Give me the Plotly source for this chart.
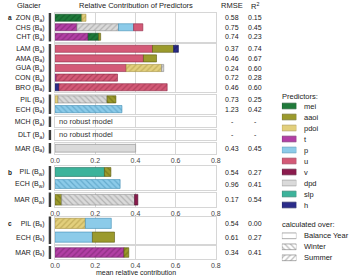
import plotly.graph_objects as go

W, H = 350, 275
FONT = "Liberation Sans, Arial, sans-serif"

# ---------------- data ----------------
PREDICTORS = ["mei", "aaoi", "pdoi", "t", "p", "u", "v", "dpd", "slp", "h"]
PRED_COLORS = ["#1f7a3a", "#9b9a2c", "#e2cf7c", "#b23fa5", "#8ccbe9",
               "#d35a77", "#8b1b4d", "#dadada", "#3cb39b", "#2b2c8a"]
PRED_DARK = ["#0c4a20", "#5c5b10", "#a48f3c", "#6a1d62", "#3f8db3",
             "#8f2944", "#4c0c2a", "#8c8c8c", "#1c6e5c", "#141550"]
SEASONS = ["Y", "W", "S"]
SEASON_LABELS = ["Balance Year", "Winter", "Summer"]
SEASON_SHAPES = ["", "\\", "/"]

# panel a
a1_labels = ["ZON (B<sub>a</sub>)", "CHS (B<sub>a</sub>)", "CHT (B<sub>a</sub>)"]
a1_rmse = ["0.58", "0.75", "0.74"]
a1_r2 = ["0.15", "0.45", "0.23"]
a1_pred = [["mei", "pdoi"], ["t", "dpd", "p", "u"], ["t", "mei", "aaoi"]]
a1_vals = [[0.133, 0.021], [0.109, 0.207, 0.075, 0.046], [0.165, 0.052, 0.010]]
a1_seas = [["S", "S"], ["S", "S", "Y", "Y"], ["S", "S", "Y"]]

a2_labels = ["LAM (B<sub>a</sub>)", "AMA (B<sub>a</sub>)", "GUA (B<sub>a</sub>)",
             "CON (B<sub>a</sub>)", "BRO (B<sub>a</sub>)"]
a2_rmse = ["0.37", "0.46", "0.24", "0.72", "0.46"]
a2_r2 = ["0.74", "0.67", "0.60", "0.28", "0.60"]
a2_pred = [["u", "aaoi", "h"], ["u", "aaoi"], ["u", "pdoi", "dpd"], ["t", "u"], ["h", "u"]]
a2_vals = [[0.485, 0.105, 0.024], [0.440, 0.065], [0.354, 0.176, 0.011],
           [0.006, 0.305], [0.020, 0.538]]
a2_seas = [["Y", "Y", "S"], ["Y", "Y"], ["Y", "S", "S"], ["Y", "S"], ["Y", "S"]]

a3_labels = ["PIL (B<sub>a</sub>)", "ECH (B<sub>a</sub>)"]
a3_rmse = ["0.73", "1.23"]
a3_r2 = ["0.25", "0.42"]
a3_pred = [["pdoi", "dpd", "aaoi"], ["p"]]
a3_vals = [[0.015, 0.244, 0.044], [0.333]]
a3_seas = [["Y", "W", "W"], ["W"]]

a4_labels = ["MCH (B<sub>a</sub>)"]
a4_rmse = ["-"]
a4_r2 = ["-"]
a4_pred = [[]]
a4_vals = [[]]
a4_seas = [[]]

a5_labels = ["DLT (B<sub>a</sub>)"]
a5_rmse = ["-"]
a5_r2 = ["-"]
a5_pred = [[]]
a5_vals = [[]]
a5_seas = [[]]

a6_labels = ["MAR (B<sub>a</sub>)"]
a6_rmse = ["0.43"]
a6_r2 = ["0.45"]
a6_pred = [["dpd"]]
a6_vals = [[0.401]]
a6_seas = [["Y"]]

# panel b
b1_labels = ["PIL (B<sub>w</sub>)", "ECH (B<sub>w</sub>)"]
b1_rmse = ["0.54", "0.96"]
b1_r2 = ["0.27", "0.41"]
b1_pred = [["slp", "aaoi"], ["p"]]
b1_vals = [[0.246, 0.032], [0.324]]
b1_seas = [["Y", "W"], ["W"]]

b2_labels = ["MAR (B<sub>w</sub>)"]
b2_rmse = ["0.17"]
b2_r2 = ["0.54"]
b2_pred = [["aaoi", "dpd", "v"]]
b2_vals = [[0.033, 0.363, 0.016]]
b2_seas = [["W", "W", "Y"]]

# panel c
c1_labels = ["PIL (B<sub>s</sub>)", "ECH (B<sub>s</sub>)"]
c1_rmse = ["0.54", "0.61"]
c1_r2 = ["0.00", "0.27"]
c1_pred = [["pdoi", "p"], ["p", "aaoi"]]
c1_vals = [[0.151, 0.129], [0.186, 0.110]]
c1_seas = [["S", "Y"], ["Y", "Y"]]

c2_labels = ["MAR (B<sub>s</sub>)"]
c2_rmse = ["0.34"]
c2_r2 = ["0.41"]
c2_pred = [["t", "aaoi"]]
c2_vals = [[0.343, 0.024]]
c2_seas = [["S", "S"]]

X_TICKS = [0.0, 0.2, 0.4, 0.6, 0.8]
X_TICK_TEXT = ["0.0", "0.2", "0.4", "0.6", "0.8"]

# ---------------- layout helpers ----------------
def px_x(p):
    return p / W

def px_y(p):
    return 1 - p / H

# (data, top px, bottom px, show x tick labels, panel letter)
groups = [
    ((a1_labels, a1_rmse, a1_r2, a1_pred, a1_vals, a1_seas), 13, 41.5, False, "a"),
    ((a2_labels, a2_rmse, a2_r2, a2_pred, a2_vals, a2_seas), 44, 92, False, None),
    ((a3_labels, a3_rmse, a3_r2, a3_pred, a3_vals, a3_seas), 94.5, 114, False, None),
    ((a4_labels, a4_rmse, a4_r2, a4_pred, a4_vals, a4_seas), 116.5, 127, False, None),
    ((a5_labels, a5_rmse, a5_r2, a5_pred, a5_vals, a5_seas), 130, 140, False, None),
    ((a6_labels, a6_rmse, a6_r2, a6_pred, a6_vals, a6_seas), 143, 153.5, True, None),
    ((b1_labels, b1_rmse, b1_r2, b1_pred, b1_vals, b1_seas), 166, 190, False, "b"),
    ((b2_labels, b2_rmse, b2_r2, b2_pred, b2_vals, b2_seas), 192.5, 207, True, None),
    ((c1_labels, c1_rmse, c1_r2, c1_pred, c1_vals, c1_seas), 216.5, 244, False, "c"),
    ((c2_labels, c2_rmse, c2_r2, c2_pred, c2_vals, c2_seas), 246, 259, True, None),
]

X0_PX, X1_PX = 51.5, 217
RMSE_X, R2_X = 234, 257.5
GRID = "#d6d6d6"
TEXT = "#222222"

fig = go.Figure()
layout = dict(
    width=W, height=H,
    margin=dict(l=0, r=0, t=0, b=0),
    paper_bgcolor="white", plot_bgcolor="white",
    showlegend=False, barmode="overlay",
    font=dict(family=FONT, size=7.5, color=TEXT),
)
shapes = []
annotations = []

for k, (data, top, bot, show_ticks, letter) in enumerate(groups, start=1):
    labels, rmse, r2, preds, vals, seas = data
    ax = "" if k == 1 else str(k)
    n = len(labels)
    layout[f"xaxis{ax}"] = dict(
        domain=[px_x(X0_PX), px_x(X1_PX)], anchor=f"y{ax}",
        range=[0, 0.8], tickvals=X_TICKS, ticktext=X_TICK_TEXT,
        showticklabels=show_ticks, ticks="", showgrid=True, gridcolor=GRID,
        gridwidth=1, zeroline=False, showline=True, mirror=True,
        linecolor=GRID, linewidth=1, tickfont=dict(size=7, color="#444"),
        fixedrange=True,
    )
    layout[f"yaxis{ax}"] = dict(
        domain=[px_y(bot), px_y(top)], anchor=f"x{ax}",
        range=[n - 0.5, -0.5], tickvals=list(range(n)), ticktext=labels,
        ticks="", showgrid=False, zeroline=False, showline=True, mirror=True,
        linecolor=GRID, linewidth=1, ticklabelstandoff=8,
        tickfont=dict(size=7, color=TEXT), fixedrange=True,
    )
    for i in range(n):
        base = 0.0
        for pr, v, s in zip(preds[i], vals[i], seas[i]):
            ci = PREDICTORS.index(pr)
            shape = SEASON_SHAPES[SEASONS.index(s)]
            fig.add_trace(go.Bar(
                orientation="h", y=[i], x=[v], base=[base], width=0.74,
                xaxis=f"x{ax}", yaxis=f"y{ax}",
                marker=dict(
                    color=PRED_COLORS[ci],
                    line=dict(color=PRED_DARK[ci], width=0.6),
                    pattern=dict(shape=shape, fgcolor=PRED_DARK[ci],
                                 bgcolor=PRED_COLORS[ci], size=4,
                                 solidity=0.3, fillmode="overlay"),
                ),
                hoverinfo="skip",
            ))
            base += v
        if not preds[i]:
            annotations.append(dict(
                xref=f"x{ax}", yref=f"y{ax}", x=0.012, y=i, text="no robust model",
                showarrow=False, xanchor="left", yanchor="middle",
                font=dict(size=7.5, color="#333")))
        annotations.append(dict(
            xref="paper", yref=f"y{ax}", x=px_x(RMSE_X), y=i, text=rmse[i],
            showarrow=False, xanchor="center", yanchor="middle",
            font=dict(size=7, color=TEXT)))
        annotations.append(dict(
            xref="paper", yref=f"y{ax}", x=px_x(R2_X), y=i, text=r2[i],
            showarrow=False, xanchor="center", yanchor="middle",
            font=dict(size=7, color=TEXT)))
    # dark group bar on the left
    shapes.append(dict(
        type="rect", xref="paper", yref=f"y{ax} domain",
        x0=px_x(45), x1=px_x(47.5), y0=0, y1=1,
        fillcolor="#3a3a3a", line=dict(width=0)))
    if letter:
        annotations.append(dict(
            xref="paper", yref=f"y{ax}", x=px_x(1.5), y=0, text=f"<b>{letter}</b>",
            showarrow=False, xanchor="left", yanchor="middle",
            font=dict(size=6.5, color=TEXT)))

# headers
for txt, xp in [("Glacier", 25), ("Relative Contribution of Predictors", 134.5),
                ("RMSE", RMSE_X), ("R<sup>2</sup>", R2_X)]:
    annotations.append(dict(
        xref="paper", yref="paper", x=px_x(xp), y=px_y(5.5), text=txt,
        showarrow=False, xanchor="center", yanchor="middle",
        font=dict(size=7.5, color=TEXT)))

annotations.append(dict(
    xref="paper", yref="paper", x=px_x(134.5), y=px_y(272),
    text="mean relative contribution", showarrow=False,
    xanchor="center", yanchor="middle", font=dict(size=7, color=TEXT)))

# ---------------- legend (drawn on its own small axis) ----------------
LEG = "11"
LEG_Y_PRED = list(range(len(PREDICTORS)))
LEG_Y_SEAS = [11.8, 12.8, 13.8]
layout[f"xaxis{LEG}"] = dict(domain=[px_x(285), px_x(300)], anchor=f"y{LEG}",
                             range=[0, 1], visible=False, fixedrange=True)
layout[f"yaxis{LEG}"] = dict(domain=[px_y(264.4), px_y(88.4)], anchor=f"x{LEG}",
                             range=[14.4, -1.6], visible=False, fixedrange=True)
for ci, pr in enumerate(PREDICTORS):
    fig.add_trace(go.Bar(
        orientation="h", y=[LEG_Y_PRED[ci]], x=[1], base=[0], width=0.52,
        xaxis=f"x{LEG}", yaxis=f"y{LEG}",
        marker=dict(color=PRED_COLORS[ci], line=dict(color=PRED_DARK[ci], width=0.6)),
        hoverinfo="skip"))
    annotations.append(dict(
        xref="paper", yref=f"y{LEG}", x=px_x(306), y=LEG_Y_PRED[ci], text=pr,
        showarrow=False, xanchor="left", yanchor="middle",
        font=dict(size=7.5, color=TEXT)))
for si, lab in enumerate(SEASON_LABELS):
    fig.add_trace(go.Bar(
        orientation="h", y=[LEG_Y_SEAS[si]], x=[1], base=[0], width=0.52,
        xaxis=f"x{LEG}", yaxis=f"y{LEG}",
        marker=dict(color="white", line=dict(color="#777", width=0.6),
                    pattern=dict(shape=SEASON_SHAPES[si], fgcolor="#777",
                                 bgcolor="white", size=4, solidity=0.3,
                                 fillmode="overlay")),
        hoverinfo="skip"))
    annotations.append(dict(
        xref="paper", yref=f"y{LEG}", x=px_x(306), y=LEG_Y_SEAS[si], text=lab,
        showarrow=False, xanchor="left", yanchor="middle",
        font=dict(size=7.5, color=TEXT)))
for txt, yv in [("Predictors:", -0.9), ("calculated over:", 10.73)]:
    annotations.append(dict(
        xref="paper", yref=f"y{LEG}", x=px_x(283), y=yv, text=txt,
        showarrow=False, xanchor="left", yanchor="middle",
        font=dict(size=7.5, color=TEXT)))

layout["shapes"] = shapes
layout["annotations"] = annotations
fig.update_layout(**layout)
fig.write_html("out.html", config={"displayModeBar": False},
               post_script="document.body.style.margin='0px';")
